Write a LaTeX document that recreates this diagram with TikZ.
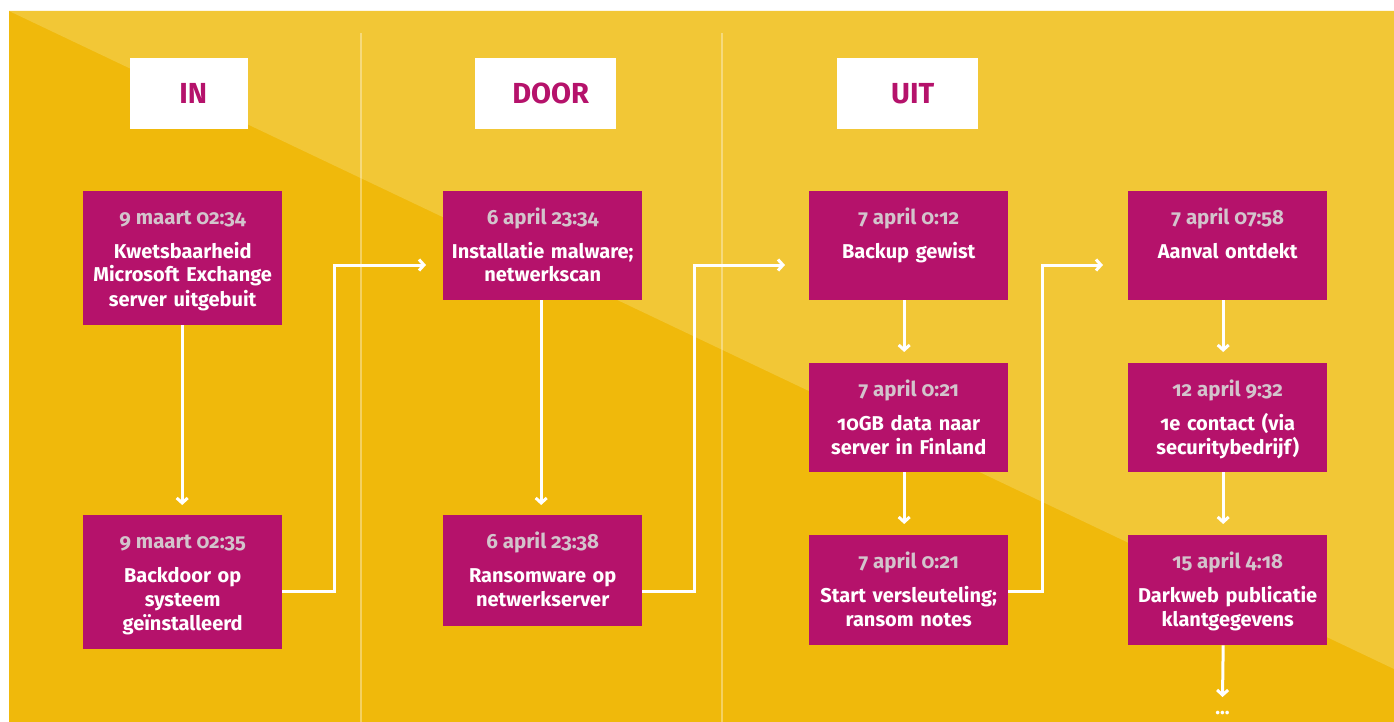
\documentclass[tikz,border=0pt]{standalone}
\usepackage{fontspec}
\setmainfont{Fira Sans}[Numbers=OldStyle]
\usetikzlibrary{arrows.meta}
\definecolor{ydark}{HTML}{F0B90B}
\definecolor{ylight}{HTML}{F2C736}
\definecolor{mag}{HTML}{B5126B}
\definecolor{datec}{HTML}{D3C4CC}
\tikzset{
  evtbox/.style={fill=mag, draw=none, minimum width=199pt, inner sep=0pt, anchor=north west},
  datet/.style={text=datec, font=\bfseries\fontsize{20.5}{22}\selectfont, inner sep=0pt, anchor=base},
  bodyt/.style={text=white, font=\bfseries\fontsize{20}{24}\selectfont, inner sep=0pt, anchor=base, text width=199pt, align=center},
  hdrbox/.style={fill=white, draw=none, minimum height=71pt, inner sep=0pt, anchor=north west},
  hdrtext/.style={text=mag, font=\bfseries\fontsize{29}{30}\selectfont, inner sep=0pt},
  conn/.style={draw=white, line width=3pt, -{Straight Barb[length=5pt,width=11pt]}},
  divider/.style={draw=white, opacity=0.35, line width=2pt},
}
\newcommand\evt[6]{%
  \node[evtbox, minimum height=#4pt] (#1) at (#2,#3) {};
  \node[datet] (#1d) at ([yshift=-33pt]#1.north) {#5};
  \node[bodyt] (#1t) at ([yshift=-67pt]#1.north) {#6};
}
\begin{document}
\begin{tikzpicture}[x=1pt,y=-1pt]
\useasboundingbox (0,0) rectangle (1394,722);
\fill[white] (0,0) rectangle (1394,722);
\fill[ydark] (9,11) rectangle (1394,722);
\fill[ylight] (9,11) -- (1394,11) -- (1394,669) -- cycle;
\draw[divider] (361,33) -- (361,722);
\draw[divider] (722,33) -- (722,722);

% headers
\node[hdrbox, minimum width=118pt] (hin) at (130,58) {};
\node[hdrtext] (hint) at ([xshift=4pt]hin.center) {IN};
\node[hdrbox, minimum width=141pt] (hdoor) at (475,58) {};
\node[hdrtext] (hdoort) at ([xshift=5pt]hdoor.center) {DOOR};
\node[hdrbox, minimum width=141pt] (huit) at (837,58) {};
\node[hdrtext] (huitt) at ([xshift=5pt]huit.center) {UIT};

% events
\evt{b1}{83}{191}{134}{9 maart 02:34}{Kwetsbaarheid\\Microsoft Exchange\\server uitgebuit}
\evt{b2}{83}{515}{134}{9 maart 02:35}{Backdoor op\\systeem\\geïnstalleerd}
\evt{b3}{443}{191}{109}{6 april 23:34}{Installatie malware;\\netwerkscan}
\evt{b4}{443}{515}{111}{6 april 23:38}{Ransomware op\\netwerkserver}
\evt{b5}{809}{191}{109}{7 april 0:12}{Backup gewist}
\evt{b6}{809}{363}{109}{7 april 0:21}{10GB data naar\\server in Finland}
\evt{b7}{809}{535}{110}{7 april 0:21}{Start versleuteling;\\ransom notes}
\evt{b8}{1128}{191}{109}{7 april 07:58}{Aanval ontdekt}
\evt{b9}{1128}{363}{109}{12 april 9:32}{1e contact (via\\securitybedrijf)}
\evt{b10}{1128}{535}{110}{15 april 4:18}{Darkweb publicatie\\klantgegevens}

\coordinate (hy) at (0,591);
\coordinate (ty) at (0,265);

% vertical connectors
\draw[conn] ([xshift=-0.5pt]b1.south) -- ([xshift=-0.5pt,yshift=10pt]b2.north);
\draw[conn] ([xshift=-1.5pt]b3.south) -- ([xshift=-1.5pt,yshift=10pt]b4.north);
\draw[conn] ([xshift=-4.5pt]b5.south) -- ([xshift=-4.5pt,yshift=11pt]b6.north);
\draw[conn] ([xshift=-4.5pt]b6.south) -- ([xshift=-4.5pt,yshift=11pt]b7.north);
\draw[conn] ([xshift=-4.5pt]b8.south) -- ([xshift=-4.5pt,yshift=11pt]b9.north);
\draw[conn] ([xshift=-4.5pt]b9.south) -- ([xshift=-4.5pt,yshift=11pt]b10.north);

% horizontal connectors
\draw[conn] (b2.east |- hy) -- ++(52,0) |- ([xshift=-17pt]b3.west |- ty);
\draw[conn] (b4.east |- hy) -- ++(52,0) |- ([xshift=-24pt]b5.west |- ty);
\draw[conn] (b7.east |- hy) -- ++(34,0) |- ([xshift=-25pt]b8.west |- ty);

% continuation
\coordinate (endc) at (1222.5,697);
\draw[conn] ([xshift=-4.5pt]b10.south) -- (endc);
\node[text=white, font=\bfseries\fontsize{20}{24}\selectfont, inner sep=0pt, anchor=base] (dots) at (1222.5,714) {...};
\end{tikzpicture}
\end{document}
